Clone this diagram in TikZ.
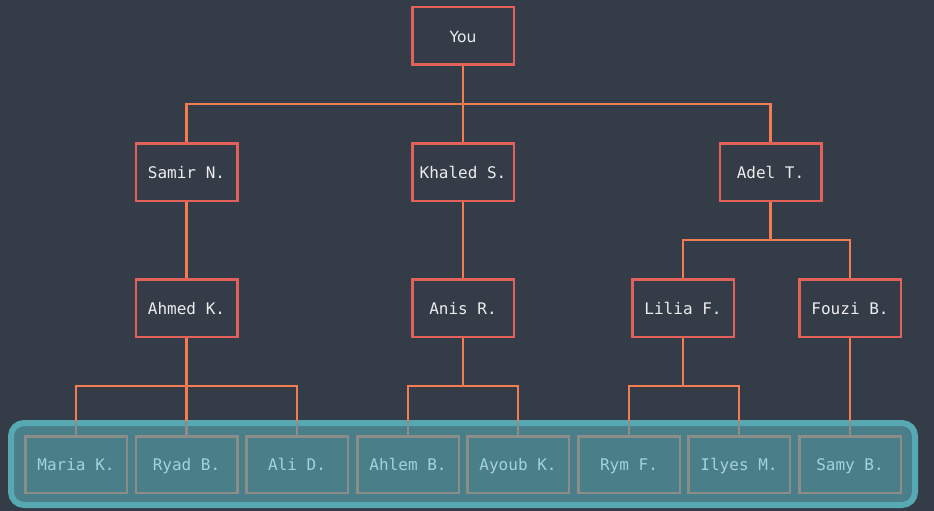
\documentclass[tikz,border=0pt]{standalone}
\usepackage{fontspec}
\setmainfont{DejaVu Sans}
\newfontfamily\monof{DejaVu Sans Mono}
\definecolor{bgc}{HTML}{333C47}
\definecolor{boxred}{HTML}{E2625A}
\definecolor{lineor}{HTML}{F47C50}
\definecolor{txtw}{HTML}{ECECEC}
\definecolor{grpfill}{HTML}{4A7F89}
\definecolor{grpedge}{HTML}{56A9B3}
\definecolor{leafedge}{HTML}{8B8D89}
\definecolor{leaftxt}{HTML}{A3D3D8}
\tikzset{
  person/.style={draw=boxred, line width=2.5pt, fill=bgc, minimum width=101.5pt, minimum height=57.5pt, inner sep=0pt, text=txtw, text height=14pt, text depth=1.5pt, font=\monof\fontsize{16}{18}\selectfont},
  leaf/.style={draw=leafedge, line width=2.5pt, fill=grpfill, minimum width=101.5pt, minimum height=56.5pt, inner sep=0pt, text=leaftxt, text height=14pt, text depth=1.5pt, font=\monof\fontsize{16}{18}\selectfont},
  link/.style={draw=lineor, line width=2.6pt},
  innerlink/.style={draw=leafedge, line width=2.5pt},
}
\begin{document}
\begin{tikzpicture}[x=1pt,y=-1pt]
\fill[bgc] (0,0) rectangle (934,511);
\useasboundingbox (0,0) rectangle (934,511);
% group container
\node[draw=grpedge, fill=grpfill, line width=6pt, rounded corners=13pt, minimum width=904pt, minimum height=82pt, inner sep=0pt] (grp) at (463,464) {};
% level 1
\node[person, font=\fontsize{15.5}{18}\selectfont] (you) at (463,36) {You};
% level 2
\node[person] (samir) at (186.5,172) {Samir N.};
\node[person] (khaled) at (463,172) {Khaled S.};
\node[person] (adel) at (770.5,172) {Adel T.};
% level 3
\node[person] (ahmed) at (186.5,308) {Ahmed K.};
\node[person] (anis) at (463,308) {Anis R.};
\node[person] (lilia) at (683,308) {Lilia F.};
\node[person] (fouzi) at (850,308) {Fouzi B.};
% leaves
\node[leaf] (maria) at (76,464.5) {Maria K.};
\node[leaf] (ryad) at (186.5,464.5) {Ryad B.};
\node[leaf] (ali) at (297,464.5) {Ali D.};
\node[leaf] (ahlem) at (408,464.5) {Ahlem B.};
\node[leaf] (ayoub) at (518,464.5) {Ayoub K.};
\node[leaf] (rym) at (629,464.5) {Rym F.};
\node[leaf] (ilyes) at (739,464.5) {Ilyes M.};
\node[leaf] (samy) at (850,464.5) {Samy B.};
% bar coordinates
\coordinate (b1) at (463,104);
\coordinate (b2) at (770.5,240);
\coordinate (b3) at (186.5,386);
\coordinate (b4) at (463,386);
\coordinate (b5) at (683,386);
\coordinate (gtop) at (0,421);
% top level connectors
\draw[link] (you.south) -- (b1) -| (samir.north);
\draw[link] (b1) -| (adel.north);
\draw[link] (b1) -- (khaled.north);
\draw[link] (samir.south) -- (ahmed.north);
\draw[link] (khaled.south) -- (anis.north);
\draw[link] (adel.south) -- (b2) -| (lilia.north);
\draw[link] (b2) -| (fouzi.north);
% bottom connectors: orange down to the group, grey inside it
\draw[link] (ahmed.south) -- (b3);
\draw[link] (anis.south) -- (b4);
\draw[link] (lilia.south) -- (b5);
\foreach \p/\c in {b3/maria,b3/ryad,b3/ali,b4/ahlem,b4/ayoub,b5/rym,b5/ilyes}{
  \draw[link] (\p) -| (\c.north |- gtop);
  \draw[innerlink] (\c.north |- gtop) -- (\c.north);
}
\draw[link] (fouzi.south) -- (samy.north |- gtop);
\draw[innerlink] (samy.north |- gtop) -- (samy.north);
\end{tikzpicture}
\end{document}
